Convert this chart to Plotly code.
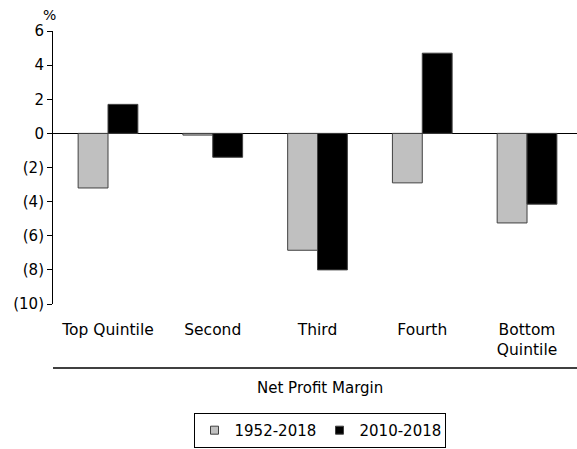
import plotly.graph_objects as go

categories = ["Top Quintile", "Second", "Third", "Fourth", "Bottom<br>Quintile"]
series_1952 = [-3.2, -0.1, -6.85, -2.9, -5.25]
series_2010 = [1.7, -1.4, -8.0, 4.7, -4.15]
ytick_vals = [-10, -8, -6, -4, -2, 0, 2, 4, 6]
ytick_text = ["(10)", "(8)", "(6)", "(4)", "(2)", "0", "2", "4", "6"]

fnt = "DejaVu Sans"
grey = "#c0c0c0"
edge = "#404040"

fig = go.Figure()
fig.add_trace(go.Bar(
    name="1952-2018", x=categories, y=series_1952, showlegend=False,
    marker=dict(color=grey, line=dict(color=edge, width=1)),
))
fig.add_trace(go.Bar(
    name="2010-2018", x=categories, y=series_2010, showlegend=False,
    marker=dict(color="#000000", line=dict(color=edge, width=1)),
))
# legend-only entries so the key squares are small like the original
for nm, col in [("1952-2018", grey), ("2010-2018", "#000000")]:
    fig.add_trace(go.Scatter(
        name=nm, x=[None], y=[None], mode="markers",
        marker=dict(symbol="square", size=8, color=col, line=dict(color=edge, width=1)),
    ))

fig.update_layout(
    width=577, height=449,
    margin=dict(l=53, r=0, t=31, b=145),
    paper_bgcolor="white", plot_bgcolor="white",
    font=dict(family=fnt, size=15, color="black"),
    barmode="group", bargap=0.43, bargroupgap=0,
    showlegend=True,
    legend=dict(
        orientation="h", x=0.5086, xanchor="center", y=-0.399, yanchor="top",
        bordercolor="black", borderwidth=1,
        font=dict(size=15), itemwidth=30, entrywidth=80,
    ),
    xaxis=dict(
        range=[-0.525, 4.477],
        showline=False, ticks="", showgrid=False,
        tickfont=dict(size=15.5), ticklabelstandoff=14,
    ),
    yaxis=dict(
        range=[-10, 6], tickvals=ytick_vals, ticktext=ytick_text,
        showline=True, linecolor="black", linewidth=1,
        ticks="outside", ticklen=5, tickcolor="black",
        showgrid=False, zeroline=True, zerolinecolor="black", zerolinewidth=1,
        tickfont=dict(size=15),
    ),
    shapes=[dict(
        type="line", xref="paper", yref="paper",
        x0=0, x1=1, y0=-0.234, y1=-0.234,
        line=dict(color="black", width=1.5),
    )],
    annotations=[
        dict(text="Net Profit Margin", xref="paper", yref="paper",
             x=0.5086, y=-0.308, yanchor="middle", showarrow=False,
             font=dict(size=15)),
        dict(text="%", xref="paper", yref="paper", x=-0.0076, y=1.059,
             xanchor="center", yanchor="middle", showarrow=False,
             font=dict(size=14)),
    ],
)

fig.write_html("out.html", config={"displayModeBar": False},
               post_script="document.body.style.margin='0';")
